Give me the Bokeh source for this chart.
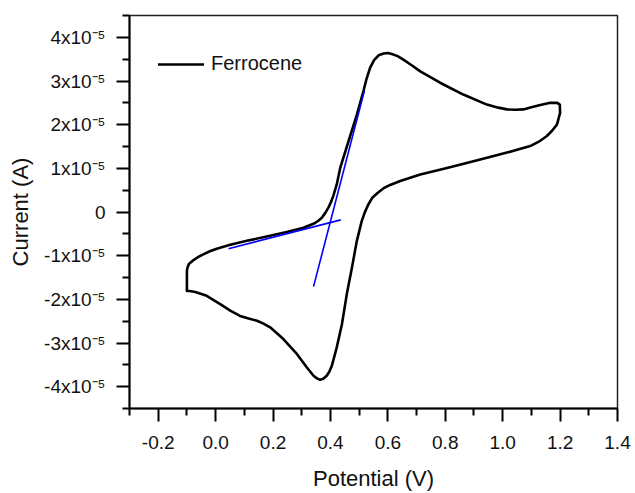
from bokeh.plotting import figure
from bokeh.models import (Range1d, FixedTicker, CustomJSTickFormatter, Legend, LegendItem)
from bokeh.embed import file_html
from bokeh.resources import INLINE

# Cyclic voltammogram of ferrocene (potential in V, current in microampere)
potential_V = [-0.100, -0.100, -0.098, -0.093, -0.077, -0.060, -0.043, -0.020, 0.004, 0.051,
               0.109, 0.178, 0.248, 0.306, 0.341, 0.358, 0.370, 0.382, 0.393, 0.402,
               0.410, 0.422, 0.434, 0.463, 0.492, 0.515, 0.525, 0.538, 0.552, 0.568,
               0.585, 0.600, 0.614, 0.634, 0.654, 0.683, 0.713, 0.782, 0.863, 0.945,
               0.985, 1.015, 1.045, 1.072, 1.100, 1.131, 1.166, 1.190, 1.199,
               1.200, 1.194, 1.189, 1.172, 1.154, 1.126, 1.096, 1.015, 0.922, 0.806,
               0.713, 0.643, 0.608, 0.584, 0.563, 0.545, 0.531, 0.519, 0.509, 0.492,
               0.475, 0.457, 0.440, 0.422, 0.405, 0.396, 0.387, 0.375, 0.364, 0.353,
               0.341, 0.318, 0.283, 0.236, 0.190, 0.165, 0.144, 0.115, 0.085, 0.051,
               0.016, -0.031, -0.071, -0.090, -0.100]
current_uA = [-18.1, -13.5, -12.7, -11.9, -11.0, -10.3, -9.7, -9.0, -8.4, -7.5,
              -6.6, -5.6, -4.6, -3.6, -2.7, -2.0, -1.3, -0.2, 1.0, 2.3,
              3.7, 6.3, 10.1, 16.2, 22.3, 27.7, 30.3, 33.0, 34.8, 35.9,
              36.3, 36.4, 36.2, 35.7, 34.9, 33.6, 32.2, 29.6, 26.9, 24.6,
              23.9, 23.5, 23.4, 23.5, 24.0, 24.5, 25.0, 25.0, 24.6,
              22.7, 21.2, 20.0, 18.6, 17.4, 16.1, 15.1, 13.6, 12.0, 10.1,
              8.6, 7.1, 6.2, 5.4, 4.3, 3.2, 1.6, -0.2, -2.1, -6.6,
              -12.7, -18.8, -25.7, -31.0, -35.2, -36.6, -37.5, -38.2, -38.4, -38.1,
              -37.5, -35.6, -32.5, -29.1, -26.4, -25.5, -24.9, -24.4, -23.8, -22.6,
              -21.1, -19.2, -18.3, -18.1, -18.1]

# Tangent lines used to read the onset potential
tangent1_V = [0.045, 0.436]
tangent1_uA = [-8.4, -1.8]
tangent2_V = [0.341, 0.518]
tangent2_uA = [-17.1, 27.7]

x_ticks = [-0.2, 0.0, 0.2, 0.4, 0.6, 0.8, 1.0, 1.2, 1.4]
x_minor = [-0.3, -0.1, 0.1, 0.3, 0.5, 0.7, 0.9, 1.1, 1.3]
y_ticks_e5 = [-4, -3, -2, -1, 0, 1, 2, 3, 4]
y_minor_e5 = [-4.5, -3.5, -2.5, -1.5, -0.5, 0.5, 1.5, 2.5, 3.5, 4.5]

current_A = [c * 1e-6 for c in current_uA]
t1_A = [c * 1e-6 for c in tangent1_uA]
t2_A = [c * 1e-6 for c in tangent2_uA]

FONT = "Liberation Sans"

p = figure(width=635, height=493, output_backend="svg", toolbar_location=None,
           x_range=Range1d(-0.3, 1.4), y_range=Range1d(-4.5e-5, 4.5e-5),
           min_border_left=129, min_border_right=18, min_border_top=15, min_border_bottom=85)
p.background_fill_color = "white"
p.border_fill_color = "white"
p.outline_line_color = "#222222"
p.outline_line_width = 1.5
p.xgrid.visible = False
p.ygrid.visible = False

r = p.line(potential_V, current_A, line_color="black", line_width=2.6,
           line_join="round", line_cap="round")
p.line(tangent1_V, t1_A, line_color="#0000ff", line_width=1.6)
p.line(tangent2_V, t2_A, line_color="#0000ff", line_width=1.6)

for ax in (p.xaxis[0], p.yaxis[0]):
    ax.axis_line_width = 2
    ax.axis_line_color = "black"
    ax.major_tick_line_width = 2
    ax.minor_tick_line_width = 2
    ax.major_tick_line_color = "black"
    ax.minor_tick_line_color = "black"
    ax.major_tick_in = 0
    ax.major_tick_out = 13
    ax.minor_tick_in = 0
    ax.minor_tick_out = 7
    ax.major_label_text_font = FONT
    ax.major_label_text_font_size = "19px"
    ax.major_label_text_color = "#111111"
    ax.axis_label_text_font = FONT
    ax.axis_label_text_font_size = "22px"
    ax.axis_label_text_font_style = "normal"
    ax.axis_label_text_color = "#111111"

p.xaxis.ticker = FixedTicker(ticks=x_ticks, minor_ticks=x_minor)
p.yaxis.ticker = FixedTicker(ticks=[v * 1e-5 for v in y_ticks_e5],
                             minor_ticks=[v * 1e-5 for v in y_minor_e5])
p.xaxis.formatter = CustomJSTickFormatter(code="return tick.toFixed(1);")
p.yaxis.formatter = CustomJSTickFormatter(code="""
const m = Math.round(tick * 1e5);
if (m === 0) { return "0"; }
return m + "x10\u207b\u2075";
""")
p.xaxis.axis_label = "Potential (V)"
p.yaxis.axis_label = "Current (A)"
p.xaxis.major_label_standoff = 14
p.yaxis.major_label_standoff = 11
p.xaxis.axis_label_standoff = 14
p.yaxis.axis_label_standoff = 8

legend = Legend(items=[LegendItem(label="Ferrocene", renderers=[r])],
                location=(29, 333), padding=0, margin=0, spacing=0,
                glyph_width=46, glyph_height=20, label_standoff=7,
                label_text_font=FONT, label_text_font_size="20px",
                label_text_color="#111111",
                border_line_alpha=0, background_fill_alpha=0)
p.add_layout(legend)

open("out.html", "w").write(file_html(p, INLINE))
